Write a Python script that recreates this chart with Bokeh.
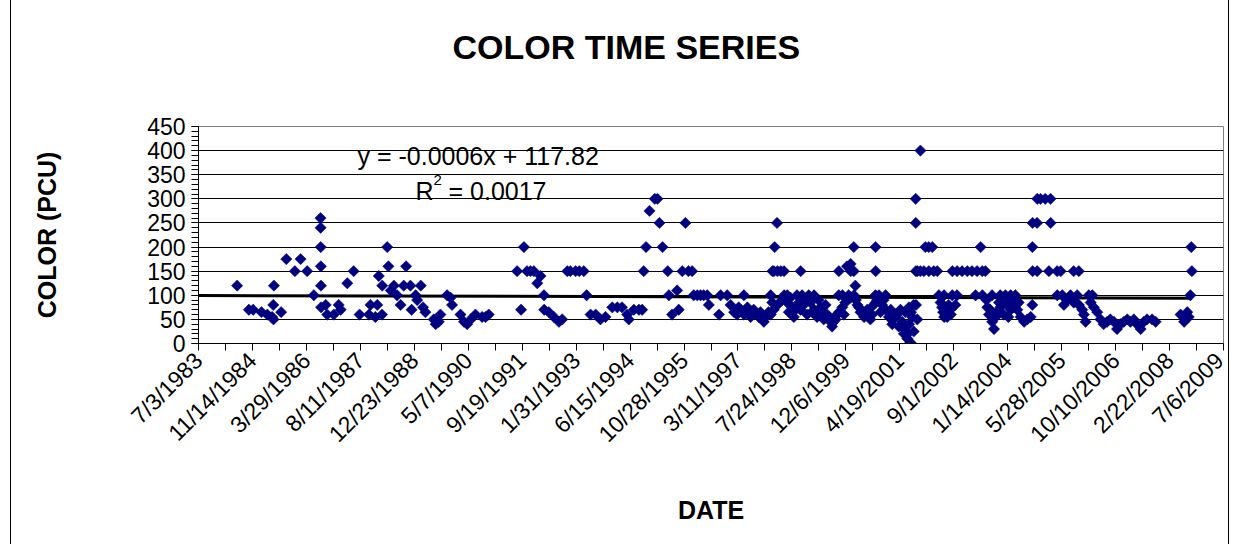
from math import pi

import pandas as pd
from bokeh.embed import file_html
from bokeh.models import ColumnDataSource, FixedTicker, Label, Range1d
from bokeh.plotting import figure
from bokeh.resources import INLINE

# ---- sample dates and true colour (PCU) -------------------------------------
dates_1984_1990 = [
    "1984-06-25", "1984-10-12", "1984-11-21", "1985-02-06", "1985-04-01", "1985-05-15", "1985-05-26", "1985-06-01", "1985-05-28", "1985-08-07",
    "1985-09-24", "1985-12-12", "1986-02-03", "1986-04-05", "1986-06-06", "1986-08-07", "1986-08-08", "1986-08-09", "1986-08-10", "1986-08-11",
    "1986-08-12", "1986-09-24", "1986-10-08", "1986-12-08", "1987-01-22", "1987-02-10", "1987-04-12", "1987-06-10", "1987-08-04", "1987-10-30",
    "1987-11-13", "1987-12-28", "1988-01-15", "1988-01-29", "1988-02-28", "1988-03-01", "1988-04-16", "1988-04-27", "1988-05-19", "1988-06-17",
    "1988-07-16", "1988-08-18", "1988-09-16", "1988-10-08", "1988-11-17", "1988-11-28", "1989-01-05", "1989-01-19", "1989-02-21", "1989-03-14",
    "1989-04-05", "1989-06-21", "1989-07-09", "1989-08-07", "1989-08-22", "1989-10-23", "1989-11-24", "1989-12-08", "1990-02-24", "1990-03-29",
    "1990-04-27", "1990-05-30", "1990-07-13", "1990-09-13", "1990-10-15", "1990-11-13",
]
color_1984_1990 = [
    120, 70, 70, 65, 60, 55, 80, 120, 50, 65,
    175, 150, 175, 150, 100, 260, 240, 200, 160, 120,
    75, 80, 60, 60, 80, 70, 125, 150, 60, 60,
    80, 55, 80, 140, 60, 120, 200, 160, 110, 120,
    100, 80, 120, 160, 120, 70, 100, 90, 120, 75,
    65, 50, 40, 45, 60, 100, 95, 80, 60, 45,
    40, 50, 60, 55, 55, 60,
]

dates_1991_1995 = [
    "1991-08-03", "1991-09-09", "1991-10-05", "1991-11-03", "1991-12-05", "1992-01-05", "1992-02-06", "1992-03-07", "1992-04-08", "1992-04-10",
    "1992-05-23", "1992-07-09", "1992-08-25", "1992-09-24", "1992-11-10", "1992-12-08", "1993-01-26", "1993-03-01", "1993-04-12", "1993-05-08",
    "1993-06-14", "1993-07-31", "1993-09-13", "1993-10-30", "1994-01-01", "1994-02-17", "1994-04-01", "1994-05-19", "1994-06-03", "1994-07-20",
    "1994-09-05", "1994-10-05", "1994-10-19", "1994-11-10", "1994-12-12", "1995-01-30", "1995-02-24", "1995-03-14", "1995-04-12", "1995-05-30",
    "1995-06-10", "1995-07-09", "1995-08-25", "1995-09-09", "1995-10-12", "1995-11-10", "1995-12-08",
]
color_1991_1995 = [
    150, 70, 200, 150, 150, 150, 125, 140, 100, 70,
    65, 55, 45, 50, 150, 150, 150, 150, 150, 100,
    60, 60, 50, 55, 75, 75, 75, 60, 50, 70,
    70, 70, 150, 200, 275, 300, 300, 250, 200, 150,
    100, 60, 110, 70, 150, 250, 150,
]

dates_1996_2000 = [
    "1996-01-11", "1996-01-26", "1996-02-28", "1996-03-29", "1996-04-27", "1996-05-30", "1996-06-14", "1996-09-16", "1996-10-01", "1996-12-01",
    "1997-01-01", "1997-02-03", "1997-03-03", "1997-03-18", "1997-04-05", "1997-05-05", "1997-05-06", "1997-06-06", "1997-06-20", "1997-07-06",
    "1997-08-04", "1997-09-05", "1997-09-20", "1997-10-05", "1997-11-06", "1997-11-21", "1997-12-05", "1997-12-19", "1998-01-08", "1998-01-09",
    "1998-01-23", "1998-01-24", "1998-02-06", "1998-02-07", "1998-02-14", "1998-03-08", "1998-03-11", "1998-03-12", "1998-04-12", "1998-04-25",
    "1998-05-12", "1998-05-13", "1998-06-10", "1998-06-11", "1998-06-25", "1998-07-10", "1998-07-27", "1998-08-11", "1998-08-25", "1998-09-09",
    "1998-09-27", "1998-10-12", "1998-10-13", "1998-10-26", "1998-11-10", "1998-11-25", "1998-12-12", "1998-12-27", "1999-01-12", "1999-01-28",
    "1999-02-14", "1999-02-15", "1999-03-14", "1999-03-28", "1999-04-16", "1999-05-01", "1999-05-15", "1999-06-01", "1999-06-17", "1999-06-30",
    "1999-07-16", "1999-07-31", "1999-08-15", "1999-09-02", "1999-09-15", "1999-10-01", "1999-10-02", "1999-10-03", "1999-11-03", "1999-11-04",
    "1999-11-18", "1999-12-01", "1999-12-16", "2000-01-01", "2000-01-19", "2000-01-20", "2000-01-21", "2000-02-17", "2000-02-18", "2000-02-19",
    "2000-03-03", "2000-03-08", "2000-03-22", "2000-04-05", "2000-04-19", "2000-05-07", "2000-05-23", "2000-06-05", "2000-06-21", "2000-07-05",
    "2000-07-20", "2000-08-05", "2000-08-20", "2000-09-05", "2000-09-06", "2000-09-07", "2000-09-08", "2000-09-20", "2000-10-08", "2000-10-22",
    "2000-11-06", "2000-11-20", "2000-12-08", "2000-12-09",
]
color_1996_2000 = [
    150, 100, 100, 100, 100, 100, 80, 60, 100, 100,
    80, 65, 60, 75, 70, 100, 60, 75, 65, 55,
    70, 60, 55, 65, 45, 55, 60, 65, 100, 60,
    85, 150, 70, 150, 200, 250, 80, 150, 150, 90,
    150, 100, 85, 100, 65, 95, 75, 55, 70, 100,
    85, 70, 150, 100, 80, 90, 60, 100, 85, 65,
    100, 70, 55, 90, 75, 65, 50, 80, 60, 55,
    45, 35, 45, 50, 60, 100, 150, 65, 75, 100,
    60, 85, 160, 100, 165, 150, 95, 200, 150, 100,
    120, 90, 80, 75, 65, 65, 55, 60, 70, 65,
    50, 60, 80, 100, 200, 150, 85, 90, 100, 65,
    80, 90, 100, 70,
]

dates_2001_2008 = [
    "2001-01-08", "2001-01-25", "2001-02-08", "2001-03-11", "2001-03-25", "2001-04-10", "2001-04-25", "2001-05-12", "2001-05-27", "2001-06-01",
    "2001-06-10", "2001-06-28", "2001-07-01", "2001-07-13", "2001-07-14", "2001-07-27", "2001-08-01", "2001-08-11", "2001-08-25", "2001-08-26",
    "2001-09-13", "2001-09-14", "2001-09-15", "2001-09-16", "2001-09-28", "2001-09-29", "2001-10-27", "2001-10-26", "2001-11-28", "2001-12-12",
    "2002-01-12", "2002-01-13", "2002-02-14", "2002-02-28", "2002-04-01", "2002-04-16", "2002-05-02", "2002-05-15", "2002-05-25", "2002-06-03",
    "2002-06-04", "2002-06-20", "2002-07-02", "2002-07-15", "2002-07-31", "2002-08-05", "2002-08-18", "2002-08-19", "2002-09-16", "2002-10-01",
    "2002-10-02", "2002-11-17", "2003-01-05", "2003-02-17", "2003-03-22", "2003-04-05", "2003-05-08", "2003-05-23", "2003-05-24", "2003-06-21",
    "2003-07-01", "2003-07-09", "2003-07-24", "2003-08-05", "2003-08-22", "2003-08-23", "2003-09-09", "2003-09-25", "2003-10-08", "2003-10-25",
    "2003-11-06", "2003-11-07", "2003-12-01", "2003-12-08", "2003-12-23", "2004-01-08", "2004-01-20", "2004-02-10", "2004-02-11", "2004-02-25",
    "2004-03-11", "2004-03-25", "2004-04-12", "2004-04-25", "2004-05-12", "2004-06-14", "2004-07-13", "2004-08-14", "2004-08-29", "2004-08-30",
    "2004-08-31", "2004-09-01", "2004-10-12", "2004-10-13", "2004-10-14", "2004-11-13", "2004-12-27", "2005-01-30", "2005-02-14", "2005-02-15",
    "2005-04-16", "2005-04-17", "2005-05-19", "2005-06-03", "2005-06-18", "2005-07-16", "2005-08-18", "2005-09-16", "2005-09-17", "2005-10-19",
    "2005-11-03", "2005-11-04", "2005-12-05", "2005-12-20", "2006-01-05", "2006-02-04", "2006-02-21", "2006-03-08", "2006-03-22", "2006-04-23",
    "2006-05-23", "2006-06-21", "2006-07-23", "2006-08-22", "2006-09-25", "2006-10-23", "2006-11-24", "2006-12-25", "2007-01-26", "2007-02-24",
    "2007-03-28", "2007-04-26", "2007-05-30", "2007-06-29", "2007-07-28", "2007-09-13", "2007-10-16", "2008-06-03", "2008-07-06", "2008-08-04",
    "2008-08-18", "2008-09-02", "2008-09-10", "2008-09-16",
]
color_2001_2008 = [
    55, 70, 40, 55, 60, 35, 70, 45, 20, 30,
    65, 10, 20, 75, 40, 2, 65, 55, 80, 25,
    300, 250, 150, 80, 50, 150, 400, 150, 150, 200,
    200, 150, 200, 150, 150, 100, 85, 75, 65, 100,
    55, 70, 55, 80, 70, 60, 100, 150, 80, 100,
    150, 150, 150, 150, 100, 150, 200, 150, 100, 150,
    90, 75, 60, 70, 100, 45, 30, 55, 65, 85,
    100, 75, 90, 60, 100, 80, 55, 100, 70, 90,
    75, 100, 70, 85, 55, 45, 50, 55, 80, 200,
    250, 150, 250, 150, 300, 300, 300, 150, 300, 250,
    150, 100, 150, 100, 80, 90, 100, 150, 85, 100,
    150, 80, 70, 60, 45, 100, 85, 100, 75, 65,
    50, 40, 45, 50, 45, 30, 40, 45, 50, 45,
    50, 40, 30, 45, 50, 50, 45, 60, 45, 65,
    55, 100, 200, 150,
]

# axis ticks
x_tick_labels = [
    "7/3/1983", "11/14/1984", "3/29/1986", "8/11/1987", "12/23/1988",
    "5/7/1990", "9/19/1991", "1/31/1993", "6/15/1994", "10/28/1995",
    "3/11/1997", "7/24/1998", "12/6/1999", "4/19/2001", "9/1/2002",
    "1/14/2004", "5/28/2005", "10/10/2006", "2/22/2008", "7/6/2009",
]
y_ticks = [0, 50, 100, 150, 200, 250, 300, 350, 400, 450]

# linear trend fitted on spreadsheet date serials
trend_slope = -0.0006
trend_intercept = 117.82
trend_r2 = 0.0017

# ---- assemble ----------------------------------------------------------------
dates = pd.to_datetime(dates_1984_1990 + dates_1991_1995 + dates_1996_2000 + dates_2001_2008)
color = color_1984_1990 + color_1991_1995 + color_1996_2000 + color_2001_2008
src = ColumnDataSource(data=dict(date=dates, color=color))


def ms(ts):
    return int(pd.Timestamp(ts).value // 10**6)


tick_ts = [pd.to_datetime(t, format="%m/%d/%Y") for t in x_tick_labels]
major_ms = [ms(t) for t in tick_ts]
minor_ms = [(a + b) // 2 for a, b in zip(major_ms[:-1], major_ms[1:])]
x0, x1 = major_ms[0], major_ms[-1]

excel_epoch = pd.Timestamp("1899-12-30")
trend_start, trend_end = tick_ts[0], dates.max()
trend_x = [ms(trend_start), ms(trend_end)]
trend_y = [trend_slope * (d - excel_epoch).days + trend_intercept for d in (trend_start, trend_end)]

FONT = "Liberation Sans"

p = figure(
    width=1219, height=544,
    x_axis_type="datetime",
    x_range=Range1d(x0, x1), y_range=Range1d(0, 450),
    output_backend="svg", toolbar_location=None,
    min_border_left=187, min_border_right=7, min_border_top=126, min_border_bottom=201,
    background_fill_color="white", border_fill_color="white",
    outline_line_color="#808080",
    styles={"margin-left": "10px", "border-left": "1px solid black", "border-right": "1px solid black"},
)

p.title.text = "COLOR TIME SERIES"
p.title.align = "left"
p.title.offset = 254
p.title.text_font = FONT
p.title.text_font_size = "34px"
p.title.text_font_style = "bold"
p.title.text_color = "black"
try:
    # extra room under the title text lifts it towards the top of the chart
    p.title.standoff = 10
    p.title.padding = dict(left=0, right=0, top=0, bottom=56)
except (AttributeError, ValueError):
    p.title.standoff = 86

xa = p.xaxis[0]
xa.ticker = FixedTicker(ticks=major_ms, minor_ticks=minor_ms)
xa.major_label_overrides = dict(zip(major_ms, x_tick_labels))
xa.major_label_orientation = pi / 4
xa.axis_label = "DATE"
xa.axis_label_standoff = 37

ya = p.yaxis[0]
ya.ticker = FixedTicker(ticks=y_ticks, minor_ticks=list(range(0, 451, 10)))
ya.axis_label = "COLOR (PCU)"
ya.axis_label_standoff = 83

for ax in (xa, ya):
    ax.axis_line_color = "black"
    ax.major_tick_line_color = "black"
    ax.minor_tick_line_color = "black"
    ax.major_tick_in = 0
    ax.major_tick_out = 7
    ax.minor_tick_in = 0
    ax.minor_tick_out = 7
    ax.major_label_standoff = 6
    ax.major_label_text_font = FONT
    ax.major_label_text_font_size = "23px"
    ax.major_label_text_color = "black"
    ax.axis_label_text_font = FONT
    ax.axis_label_text_font_size = "25px"
    ax.axis_label_text_font_style = "bold"
    ax.axis_label_text_color = "black"

p.xgrid.visible = False
p.ygrid.ticker = ya.ticker
p.ygrid.grid_line_color = "black"
p.ygrid.grid_line_width = 1

p.line(x=trend_x, y=trend_y, line_color="black", line_width=3)

p.scatter(
    x="date", y="color", source=src, marker="square", angle=pi / 4, size=8,
    fill_color="#000080", line_color="#000080", line_width=0.5,
)


def xfrac(f):
    return x0 + f * (x1 - x0)


eq_style = dict(text_font=FONT, text_color="black", text_baseline="alphabetic")
p.add_layout(Label(x=xfrac(0.1551), y=388, text=f"y = {trend_slope}x + {trend_intercept}",
                   text_font_size="25px", **eq_style))
p.add_layout(Label(x=xfrac(0.2117), y=317, text="R", text_font_size="25px", **eq_style))
p.add_layout(Label(x=xfrac(0.2293), y=339, text="2", text_font_size="15px", **eq_style))
p.add_layout(Label(x=xfrac(0.2439), y=317, text=f"= {trend_r2}", text_font_size="25px", **eq_style))

open("out.html", "w").write(file_html(p, INLINE))
